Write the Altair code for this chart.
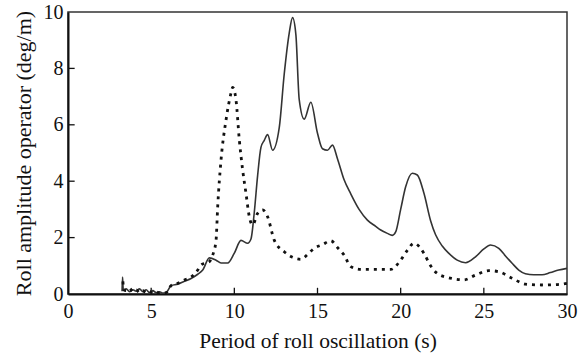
import altair as alt
import pandas as pd

solid_t = [3.25, 3.28, 3.32, 3.5, 3.7, 3.9, 4.1, 4.3, 4.5, 4.7, 4.9, 5.1, 5.3, 5.5, 5.7, 5.9,
           6.2, 6.6, 7.0, 7.4, 7.8, 8.1, 8.5, 8.9, 9.2, 9.6, 10.0, 10.4, 10.8, 11.0, 11.2, 11.4,
           11.6, 11.8, 12.0, 12.3, 12.7, 13.0, 13.3, 13.5, 13.7, 13.9, 14.2, 14.6, 15.0, 15.3,
           15.6, 15.9, 16.2, 16.6, 17.0, 17.5, 18.0, 18.5, 18.8, 19.2, 19.5, 19.7, 20.0, 20.3,
           20.7, 21.0, 21.4, 21.8, 22.1, 22.5, 22.9, 23.4, 23.9, 24.5, 25.0, 25.4, 25.9, 26.3,
           26.7, 27.1, 27.5, 28.0, 28.5, 29.0, 29.5, 30.0]
solid_v = [0.1, 0.6, 0.15, 0.18, 0.08, 0.15, 0.1, 0.18, 0.08, 0.15, 0.05, 0.12, 0.05, 0.08, 0.03, 0.05,
           0.3, 0.35, 0.45, 0.55, 0.7, 0.85, 1.28, 1.2, 1.1, 1.1, 1.45, 1.9, 1.8, 1.95, 2.9, 4.2,
           5.2, 5.45, 5.65, 5.1, 5.9, 7.8, 9.25, 9.8, 9.2, 6.9, 6.2, 6.8, 5.7, 5.15,
           5.1, 5.28, 4.8, 4.05, 3.55, 3.0, 2.62, 2.4, 2.27, 2.15, 2.08, 2.2, 3.0, 3.8,
           4.28, 4.22, 3.57, 2.6, 2.1, 1.7, 1.44, 1.2, 1.11, 1.32, 1.6, 1.74, 1.62, 1.35,
           1.09, 0.85, 0.72, 0.68, 0.68, 0.76, 0.85, 0.91]

dotted_t = [3.3, 3.35, 3.5, 3.7, 3.9, 4.1, 4.3, 4.5, 4.7, 4.9, 5.1, 5.3, 5.5, 5.9, 6.2, 6.6,
            7.0, 7.4, 7.8, 8.0, 8.5, 8.7, 8.9, 9.0, 9.2, 9.5, 9.8, 9.9, 10.1, 10.3, 10.5, 10.7,
            10.9, 11.1, 11.4, 11.7, 12.0, 12.4, 13.0, 13.5, 14.0, 14.4, 14.8, 15.3, 15.8, 16.2,
            16.6, 17.0, 17.6, 18.5, 19.4, 20.0, 20.4, 20.8, 21.4, 21.8, 22.2, 23.0, 23.8, 24.5,
            25.3, 25.9, 26.7, 27.5, 28.5, 29.3, 30.0]
dotted_v = [0.45, 0.15, 0.12, 0.2, 0.08, 0.15, 0.05, 0.12, 0.05, 0.1, 0.03, 0.08, 0.03, 0.05, 0.3, 0.38,
            0.5, 0.6, 0.85, 1.03, 1.15, 1.38, 1.9, 3.1, 4.75, 6.17, 7.12, 7.33, 6.88, 5.46, 4.4, 3.57,
            2.74, 2.45, 2.86, 2.98, 2.74, 1.91, 1.5, 1.3, 1.23, 1.4, 1.62, 1.75, 1.89, 1.65,
            1.38, 0.97, 0.87, 0.87, 0.87, 1.2, 1.55, 1.8, 1.44, 1.0, 0.73, 0.56, 0.5, 0.67,
            0.83, 0.79, 0.56, 0.35, 0.32, 0.33, 0.38]

x_ticks = [5, 10, 15, 20, 25]
y_ticks = [2, 4, 6, 8]

FONT = "Liberation Serif"

solid_df = pd.DataFrame({"t": solid_t, "v": solid_v})
dotted_df = pd.DataFrame({"t": dotted_t, "v": dotted_v})
xt_df = pd.DataFrame({"t": x_ticks, "v0": [0] * len(x_ticks), "v1": [0.22] * len(x_ticks)})
yt_df = pd.DataFrame({"v": y_ticks, "t0": [0] * len(y_ticks), "t1": [0.4] * len(y_ticks)})

xscale = alt.Scale(domain=[0, 30], nice=False, zero=False)
yscale = alt.Scale(domain=[0, 10], nice=False, zero=False)

xaxis = alt.Axis(title="Period of roll oscillation (s)", values=[0, 5, 10, 15, 20, 25, 30],
                 grid=False, ticks=False, labelPadding=7, domainColor="#111", domainWidth=2,
                 labelFont=FONT, labelFontSize=20, labelColor="#111", labelFlush=False,
                 titleFont=FONT, titleFontSize=21.5, titleFontWeight="normal", titleColor="#111",
                 titlePadding=9)
yaxis = alt.Axis(title="Roll amplitude operator (deg/m)", values=[0, 2, 4, 6, 8, 10],
                 grid=False, ticks=False, labelPadding=5, domainColor="#111", domainWidth=2,
                 labelFont=FONT, labelFontSize=20, labelColor="#111", labelFlush=False,
                 titleFont=FONT, titleFontSize=22, titleFontWeight="normal", titleColor="#111",
                 titlePadding=8)

solid = alt.Chart(solid_df).mark_line(color="#333", strokeWidth=1.6, interpolate="monotone").encode(
    x=alt.X("t:Q", scale=xscale, axis=xaxis),
    y=alt.Y("v:Q", scale=yscale, axis=yaxis),
)
dotted = alt.Chart(dotted_df).mark_line(color="#111", strokeWidth=2.8, strokeDash=[3, 5],
                                        interpolate="monotone").encode(
    x=alt.X("t:Q", scale=xscale),
    y=alt.Y("v:Q", scale=yscale),
)
xt = alt.Chart(xt_df).mark_rule(color="#111", strokeWidth=1.3).encode(
    x=alt.X("t:Q", scale=xscale), y=alt.Y("v0:Q", scale=yscale), y2="v1:Q"
)
yt = alt.Chart(yt_df).mark_rule(color="#111", strokeWidth=1.3).encode(
    y=alt.Y("v:Q", scale=yscale), x=alt.X("t0:Q", scale=xscale), x2="t1:Q"
)

chart = alt.layer(xt, yt, solid, dotted).properties(
    width=499, height=282,
    padding={"left": 68, "top": 12, "right": 15, "bottom": 59},
    autosize=alt.AutoSizeParams(type="none"),
    background="white",
).configure_view(stroke="#333", strokeWidth=1.5)

chart.save("out.html", embed_options={"renderer": "svg", "actions": False})
